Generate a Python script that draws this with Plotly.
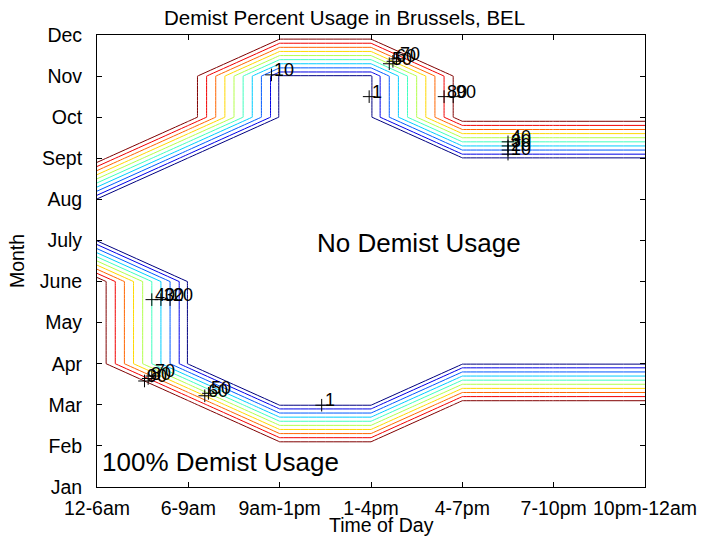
import plotly.graph_objects as go

# ---------------- data ----------------
time_labels = ["12-6am", "6-9am", "9am-1pm", "1-4pm", "4-7pm", "7-10pm", "10pm-12am"]
month_labels = ["Jan", "Feb", "Mar", "Apr", "May", "June", "July",
                "Aug", "Sept", "Oct", "Nov", "Dec"]
time_pos = [1, 2, 3, 4, 5, 6, 7]
month_pos = [1, 2, 3, 4, 5, 6, 7, 8, 9, 10, 11, 12]

# demist usage (%) : rows = months Jan..Dec, columns = time slots
usage_jan = [100, 100, 100, 100, 100, 100, 100]
usage_feb = [100, 100, 100, 100, 100, 100, 100]
usage_mar = [100, 100, 0, 0, 100, 100, 100]
usage_apr = [100, 0, 0, 0, 0, 0, 0]
usage_may = [100, 0, 0, 0, 0, 0, 0]
usage_jun = [100, 0, 0, 0, 0, 0, 0]
usage_jul = [0, 0, 0, 0, 0, 0, 0]
usage_aug = [0, 0, 0, 0, 0, 0, 0]
usage_sep = [100, 0, 0, 0, 0, 0, 0]
usage_oct = [100, 100, 0, 0, 100, 100, 100]
usage_nov = [100, 100, 0, 0, 100, 100, 100]
usage_dec = [100, 100, 100, 100, 100, 100, 100]

contour_levels = [1, 10, 20, 30, 40, 50, 60, 70, 80, 90]

# contour label anchors (level, time position, month position)
label_levels = [10, 1, 50, 60, 70, 80, 90, 10, 20, 30, 40,
                40, 30, 20, 90, 80, 70, 60, 50, 1]
label_x = [2.91, 3.98, 4.20, 4.24, 4.28, 4.80, 4.90, 5.50, 5.50, 5.50, 5.50,
           1.60, 1.70, 1.80, 1.52, 1.56, 1.60, 2.18, 2.22, 3.46]
label_y = [11.03, 10.50, 11.30, 11.36, 11.42, 10.50, 10.50, 9.10, 9.20, 9.30, 9.40,
           5.56, 5.56, 5.56, 3.58, 3.64, 3.70, 3.22, 3.28, 2.99]

usage = [usage_jan, usage_feb, usage_mar, usage_apr, usage_may, usage_jun,
         usage_jul, usage_aug, usage_sep, usage_oct, usage_nov, usage_dec]


def jet(t):
    def c(v):
        return max(0.0, min(1.0, v))
    r = c(1.5 - abs(4 * t - 3))
    g = c(1.5 - abs(4 * t - 2))
    b = c(1.5 - abs(4 * t - 1))
    return "rgb(%d,%d,%d)" % (round(r * 255), round(g * 255), round(b * 255))


lo, hi = min(contour_levels), max(contour_levels)
FONT = "Liberation Sans, Arial, Helvetica, sans-serif"

fig = go.Figure()
for lev in contour_levels:
    col = jet((lev - lo) / (hi - lo))
    fig.add_trace(go.Contour(
        z=usage, x=time_pos, y=month_pos,
        autocontour=False,
        contours=dict(start=lev, end=lev, size=1, coloring="lines", showlabels=False),
        colorscale=[[0, col], [1, col]],
        showscale=False,
        line=dict(width=1, smoothing=0),
        hoverinfo="skip",
    ))

# label "+" markers
fig.add_trace(go.Scatter(
    x=label_x, y=label_y, mode="markers",
    marker=dict(symbol="cross-thin", size=9, line=dict(width=1, color="black")),
    hoverinfo="skip", showlegend=False,
))

annotations = []
for lev, lx, ly in zip(label_levels, label_x, label_y):
    annotations.append(dict(
        x=lx, y=ly, xref="x", yref="y", text=str(lev), showarrow=False,
        xanchor="left", yanchor="middle", xshift=1, yshift=5,
        font=dict(family=FONT, size=18, color="black"),
    ))

annotations.append(dict(
    x=4.53, y=6.95, xref="x", yref="y", text="No Demist Usage", showarrow=False,
    xanchor="center", yanchor="middle",
    font=dict(family=FONT, size=26, color="black"),
))
annotations.append(dict(
    x=2.35, y=1.61, xref="x", yref="y", text="100% Demist Usage", showarrow=False,
    xanchor="center", yanchor="middle",
    font=dict(family=FONT, size=26, color="black"),
))
# title and x-axis title
annotations.append(dict(
    x=(344 - 97) / 548, y=1, xref="paper", yref="paper", yshift=18,
    text="Demist Percent Usage in Brussels, BEL",
    showarrow=False, xanchor="center", yanchor="middle",
    font=dict(family=FONT, size=20.5, color="black"),
))
annotations.append(dict(
    x=(381 - 97) / 548, y=0, xref="paper", yref="paper", yshift=-38, text="Time of Day",
    showarrow=False, xanchor="center", yanchor="middle",
    font=dict(family=FONT, size=19.5, color="black"),
))

axis_common = dict(
    showline=True, linecolor="black", linewidth=1, mirror="ticks",
    ticks="inside", ticklen=5, tickcolor="black", tickwidth=1,
    showgrid=False, zeroline=False, automargin=False,
    tickfont=dict(family=FONT, size=19.5, color="black"),
)

fig.update_layout(
    width=712, height=537,
    paper_bgcolor="white", plot_bgcolor="white",
    margin=dict(l=97, r=67, t=35, b=50),
    showlegend=False,
    xaxis=dict(range=[1, 7], tickmode="array", tickvals=time_pos, ticktext=time_labels,
               ticklabelstandoff=4,
               **axis_common),
    yaxis=dict(range=[1, 12], tickmode="array", tickvals=month_pos, ticktext=month_labels,
               title=dict(text="Month", standoff=9,
                          font=dict(family=FONT, size=19.5, color="black")),
               ticklabelstandoff=10,
               **axis_common),
    annotations=annotations,
)

fig.write_html("out.html", config={"displayModeBar": False},
               post_script="document.body.style.margin='0';")
